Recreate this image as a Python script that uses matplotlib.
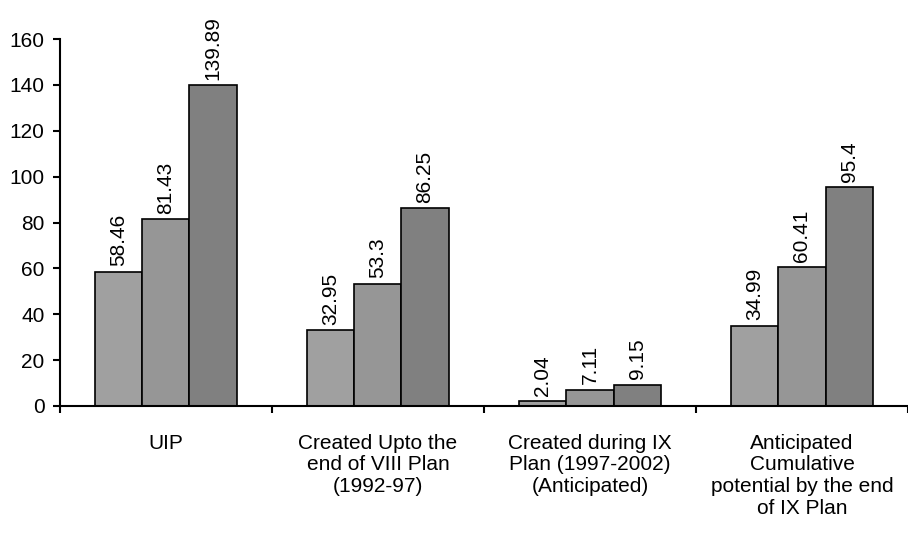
import numpy as np
import matplotlib.pyplot as plt

plt.rcParams['font.family'] = ['Liberation Sans', 'DejaVu Sans']

categories = ['UIP', 'Created Upto the\nend of VIII Plan\n(1992-97)',
              'Created during IX\nPlan (1997-2002)\n(Anticipated)',
              'Anticipated\nCumulative\npotential by the end\nof IX Plan']
series_a = [58.46, 32.95, 2.04, 34.99]
series_b = [81.43, 53.3, 7.11, 60.41]
series_c = [139.89, 86.25, 9.15, 95.4]
labels_a = ['58.46', '32.95', '2.04', '34.99']
labels_b = ['81.43', '53.3', '7.11', '60.41']
labels_c = ['139.89', '86.25', '9.15', '95.4']

colors = ['#a0a0a0', '#969696', '#808080']

fig = plt.figure(figsize=(9.08, 5.38), dpi=100)
ax = fig.add_axes([0.066, 0.2454, 0.934, 0.682])

x = np.arange(len(categories))
w = 0.222
for i, (vals, labs) in enumerate([(series_a, labels_a), (series_b, labels_b), (series_c, labels_c)]):
    pos = x + (i - 1) * w
    ax.bar(pos, vals, w, color=colors[i], edgecolor='black', linewidth=1.2)
    for p, v, t in zip(pos, vals, labs):
        ax.annotate(t, (p, v), xytext=(0, 4), textcoords='offset points',
                    rotation=90, ha='center', va='bottom', fontsize=15)

ax.set_xlim(-0.5, len(categories) - 0.5)
ax.set_ylim(0, 160)
ax.set_yticks(range(0, 161, 20))
ax.set_xticks(np.arange(len(categories) + 1) - 0.5)
ax.set_xticklabels([])
ax.set_xticks(x, minor=True)
ax.set_xticklabels(categories, minor=True, fontsize=15, linespacing=1.18, va='top')
ax.tick_params(axis='x', which='minor', length=0, pad=20)
ax.tick_params(axis='x', which='major', length=5, width=1.5, direction='out')
ax.tick_params(axis='y', length=5, width=1.5, labelsize=15, pad=6)
for s in ['top', 'right']:
    ax.spines[s].set_visible(False)
for s in ['left', 'bottom']:
    ax.spines[s].set_linewidth(1.5)

fig.savefig('out.png', dpi=100)
